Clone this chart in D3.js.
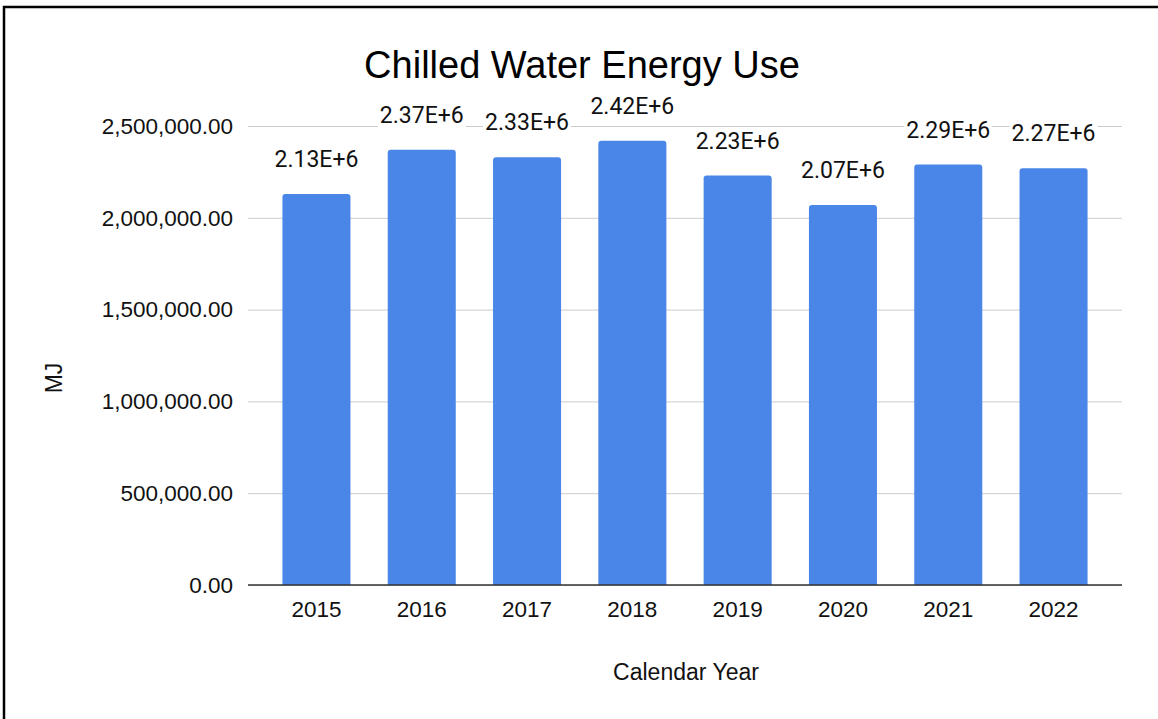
<!DOCTYPE html>
<html>
<head>
<meta charset="utf-8">
<script src="https://cdn.jsdelivr.net/npm/d3@7"></script>
<style>
  html, body { margin: 0; padding: 0; background: #fff; }
  svg { display: block; }
</style>
</head>
<body>
<svg id="chart" width="1158" height="719"></svg>
<script>
// Annual chilled water energy use (MJ)
const years = ["2015", "2016", "2017", "2018", "2019", "2020", "2021", "2022"];
const energyMJ = [2130000, 2370000, 2330000, 2420000, 2230000, 2070000, 2290000, 2270000];
const yTicks = [0, 500000, 1000000, 1500000, 2000000, 2500000];

const W = 1158, H = 719;
const margin = { left: 248, right: 36, top: 126, bottom: 134 };
const svg = d3.select("#chart");

// frame
svg.append("rect")
  .attr("x", 4).attr("y", 7)
  .attr("width", W + 20).attr("height", H + 20)
  .attr("fill", "#fff").attr("stroke", "#000").attr("stroke-width", 2.5);

const x = d3.scaleBand()
  .domain(years)
  .range([margin.left, W - margin.right])
  .paddingInner(0.354)
  .paddingOuter(0.327);

const y = d3.scaleLinear()
  .domain([0, 2500000])
  .range([H - margin.bottom, margin.top]);

const axisFont = "'Liberation Sans', Arial, sans-serif";

// gridlines + y tick labels
const yAxis = d3.axisLeft(y)
  .tickValues(yTicks)
  .tickFormat(d3.format(",.2f"))
  .tickSize(-(W - margin.right - margin.left))
  .tickPadding(15);

const gy = svg.append("g")
  .attr("transform", `translate(${margin.left},0)`)
  .call(yAxis);
gy.select(".domain").remove();
gy.selectAll(".tick line").attr("stroke", "#cccccc").attr("stroke-width", 1);
gy.selectAll(".tick text")
  .attr("fill", "#111")
  .style("font-family", axisFont)
  .style("font-size", "22.5px");

// bars with rounded top corners
const r = 3;
function barPath(d, i) {
  const x0 = x(years[i]), w = x.bandwidth();
  const y0 = y(d), y1 = y(0);
  return `M${x0},${y1}V${y0 + r}Q${x0},${y0} ${x0 + r},${y0}H${x0 + w - r}Q${x0 + w},${y0} ${x0 + w},${y0 + r}V${y1}Z`;
}
svg.append("g").selectAll("path")
  .data(energyMJ)
  .join("path")
  .attr("d", barPath)
  .attr("fill", "#4a86e8");

// baseline + x tick labels
const xAxis = d3.axisBottom(x).tickSize(0).tickPadding(16);
const gx = svg.append("g")
  .attr("transform", `translate(0,${y(0)})`)
  .call(xAxis);
gx.select(".domain")
  .attr("d", `M${margin.left},0H${W - margin.right}`)
  .attr("stroke", "#333").attr("stroke-width", 1.5);
gx.selectAll(".tick text")
  .attr("fill", "#111")
  .style("font-family", axisFont)
  .style("font-size", "22.5px");

// value labels above bars
const fmtE = d => {
  const e = Math.floor(Math.log10(d));
  return (d / Math.pow(10, e)).toFixed(2) + "E+" + e;
};
const labels = svg.append("g").selectAll("g")
  .data(energyMJ)
  .join("g")
  .attr("transform", (d, i) => `translate(${x(years[i]) + x.bandwidth() / 2},${y(d) - 27})`);
labels.append("rect").attr("fill", "#fff");
const lt = labels.append("text")
  .attr("text-anchor", "middle")
  .attr("fill", "#111")
  .style("font-family", "Roboto, sans-serif")
  .style("font-size", "23px")
  .text(fmtE);
lt.each(function() {
  const b = this.getBBox();
  d3.select(this.parentNode).select("rect")
    .attr("x", b.x - 2).attr("y", b.y + 2)
    .attr("width", b.width + 4).attr("height", b.height - 2);
});

// title
svg.append("text")
  .attr("x", 582).attr("y", 78)
  .attr("text-anchor", "middle")
  .attr("fill", "#000")
  .style("font-family", axisFont)
  .style("font-size", "38px")
  .text("Chilled Water Energy Use");

// axis titles
svg.append("text")
  .attr("x", 686).attr("y", 680)
  .attr("text-anchor", "middle")
  .attr("fill", "#111")
  .style("font-family", axisFont)
  .style("font-size", "23px")
  .text("Calendar Year");

svg.append("text")
  .attr("transform", "translate(62,378) rotate(-90)")
  .attr("text-anchor", "middle")
  .attr("fill", "#111")
  .style("font-family", axisFont)
  .style("font-size", "23px")
  .text("MJ");
</script>
</body>
</html>
